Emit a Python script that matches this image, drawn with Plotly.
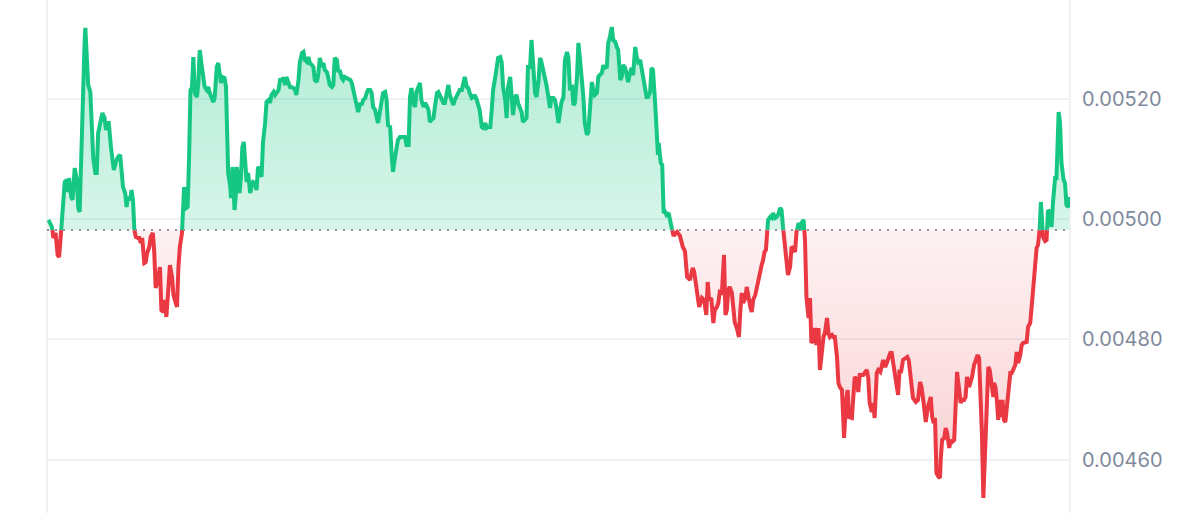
import numpy as np
import plotly.graph_objects as go

# minutes since start of the 24h window
minutes = [
    2, 7, 9, 12, 15, 17, 20, 23, 25, 28,
    30, 31, 34, 36, 39, 42, 44, 46, 50, 53,
    54, 56, 58, 61, 63, 65, 68, 70, 72, 75,
    78, 81, 83, 85, 87, 90, 92, 94, 97, 100,
    103, 105, 107, 110, 112, 114, 117, 119, 121, 123,
    125, 128, 130, 132, 134, 137, 139, 141, 144, 146,
    149, 151, 153, 156, 159, 161, 164, 166, 168, 171,
    173, 176, 178, 180, 183, 185, 187, 190, 193, 196,
    198, 200, 202, 204, 206, 208, 211, 213, 215, 218,
    220, 222, 225, 227, 229, 232, 234, 236, 239, 241,
    242, 245, 247, 250, 252, 254, 255, 258, 259, 261,
    262, 264, 266, 267, 269, 271, 273, 275, 277, 279,
    281, 283, 286, 288, 290, 293, 295, 297, 300, 302,
    304, 307, 309, 312, 314, 316, 319, 321, 323, 326,
    328, 330, 333, 335, 337, 340, 342, 344, 347, 349,
    351, 354, 356, 359, 361, 363, 366, 368, 370, 373,
    375, 377, 380, 382, 384, 387, 389, 391, 394, 396,
    398, 401, 403, 405, 408, 410, 412, 415, 417, 419,
    422, 424, 427, 429, 431, 434, 436, 438, 441, 443,
    445, 448, 450, 452, 455, 457, 459, 462, 464, 466,
    469, 471, 473, 476,
    478, 480, 483, 485, 487, 490, 492, 494, 497, 499,
    502, 504, 506, 509, 511, 513, 516, 518, 520, 523,
    525, 527, 530, 532, 534, 537, 539, 541, 544, 546,
    549, 551, 553, 556, 558, 560, 563, 565, 567, 570,
    572, 574, 577, 579, 581, 584, 586, 588, 591, 593,
    595, 598, 600, 602, 605, 607, 609, 612, 614, 617,
    619, 621, 624, 626, 628, 631, 633, 635, 638, 640,
    642, 645, 647, 649, 652, 654, 656, 659, 661, 663,
    666, 668, 670, 673, 675, 677, 680, 682, 685, 687,
    689, 692, 694, 696, 699, 701, 703, 706, 708, 710,
    713, 715,
    717, 720, 722, 724, 727, 729, 732, 734, 736, 739,
    741, 743, 746, 748, 750, 753, 755, 757, 760, 762,
    764, 767, 769, 771, 774, 776, 778, 781, 783, 785,
    788, 790, 792, 795, 797, 800, 802, 804, 807, 809,
    811, 814, 816, 818, 821, 823, 825, 828, 830, 832,
    835, 837, 839, 842, 844, 846, 849, 851, 853, 856,
    858, 860, 861, 864, 866, 868, 870, 872, 875, 877,
    879, 882, 884, 887, 891, 895, 898,
    901, 905, 909, 911, 915, 918, 922, 925, 928, 930,
    932, 935, 938, 940, 943, 945, 947, 950, 953, 955,
    957, 959, 961, 964, 966, 968, 971, 974, 976, 978,
    980, 983, 985, 987, 990, 992, 994, 997, 999, 1001,
    1004, 1006, 1008, 1010, 1012, 1014, 1015, 1018, 1020, 1022,
    1025, 1027, 1029, 1032, 1034, 1036, 1039, 1041, 1043, 1046,
    1048, 1050, 1053, 1055, 1058, 1060, 1062, 1065, 1067, 1069,
    1072, 1074, 1076, 1079, 1081, 1083, 1086, 1088, 1090, 1093,
    1095, 1098, 1100, 1102, 1105, 1107, 1109, 1112, 1114, 1116,
    1119, 1121, 1122, 1125, 1127, 1129, 1133, 1135, 1137, 1140,
    1142, 1144, 1149, 1154, 1156, 1158, 1161, 1163, 1165, 1168,
    1170, 1173, 1175, 1177, 1180, 1182, 1184, 1187, 1189, 1191,
    1194, 1196, 1198,
    1200, 1202, 1205, 1208, 1211, 1213, 1216, 1219, 1223, 1226,
    1229, 1231, 1234, 1237, 1240, 1242, 1244, 1246, 1248, 1250,
    1252, 1255, 1257, 1258, 1260, 1263, 1265, 1267, 1270, 1272,
    1274, 1277, 1279, 1281, 1284, 1286, 1288, 1291, 1293, 1295,
    1298, 1300, 1302, 1305, 1307, 1310, 1312, 1314, 1316, 1318,
    1320, 1323, 1325, 1327, 1330, 1332, 1333, 1335, 1337, 1339,
    1341, 1343, 1345, 1347, 1349, 1351, 1353, 1356, 1358, 1360,
    1363, 1365, 1367, 1370, 1372, 1374, 1377, 1379, 1381, 1384,
    1386, 1388, 1391, 1393, 1395, 1397, 1399, 1400, 1402, 1405,
    1407, 1409, 1412, 1414, 1416, 1419, 1421, 1424, 1426, 1428,
    1431, 1433, 1435, 1438, 1439,
]

prices = [
    0.0049984, 0.0049867, 0.0049684, 0.0049767, 0.0049402, 0.0049368, 0.0049817, 0.0050432, 0.0050615, 0.0050649,
    0.0050449, 0.0050682, 0.0050366, 0.0050316, 0.0050848, 0.0050649, 0.0050183, 0.0050117, 0.0052095, 0.0052976,
    0.0053176, 0.0052527, 0.0052228, 0.0052112, 0.0051596, 0.0051031, 0.0050765, 0.0050765, 0.0051430, 0.0051596,
    0.0051762, 0.0051679, 0.0051480, 0.0051596, 0.0051596, 0.0051197, 0.0050931, 0.0050815, 0.0050948, 0.0051031,
    0.0051064, 0.0050698, 0.0050532, 0.0050432, 0.0050200, 0.0050366, 0.0050316, 0.0050482, 0.0050316, 0.0049817,
    0.0049701, 0.0049684, 0.0049684, 0.0049601, 0.0049684, 0.0049269, 0.0049285, 0.0049435, 0.0049535, 0.0049701,
    0.0049767, 0.0049435, 0.0048853, 0.0048986, 0.0049202, 0.0048487, 0.0048454, 0.0048654, 0.0048371, 0.0048870,
    0.0049235, 0.0049036, 0.0048737, 0.0048654, 0.0048537, 0.0049202, 0.0049535, 0.0049767, 0.0050532, 0.0050183,
    0.0050200, 0.0051031, 0.0052145, 0.0052178, 0.0052693, 0.0052095, 0.0052028, 0.0052261, 0.0052810, 0.0052527,
    0.0052311, 0.0052195, 0.0052145, 0.0052195, 0.0052095, 0.0051979, 0.0051945, 0.0052012, 0.0052527, 0.0052594,
    0.0052527, 0.0052261, 0.0052361, 0.0052344, 0.0052195, 0.0051430, 0.0050765, 0.0050532, 0.0050349, 0.0050865,
    0.0050649, 0.0050150, 0.0050432, 0.0050865, 0.0050698, 0.0050432, 0.0050698, 0.0051197, 0.0051280, 0.0050815,
    0.0050615, 0.0050765, 0.0050432, 0.0050532, 0.0050615, 0.0050599, 0.0050482, 0.0050865, 0.0050815, 0.0050698,
    0.0051264, 0.0051596, 0.0051945, 0.0051979, 0.0051929, 0.0052062, 0.0052112, 0.0052062, 0.0052095, 0.0052145,
    0.0052311, 0.0052311, 0.0052344, 0.0052228, 0.0052361, 0.0052261, 0.0052195, 0.0052195, 0.0052178, 0.0052145,
    0.0052062, 0.0052311, 0.0052610, 0.0052760, 0.0052777, 0.0052644, 0.0052610, 0.0052693, 0.0052594, 0.0052560,
    0.0052527, 0.0052311, 0.0052278, 0.0052427, 0.0052677, 0.0052527, 0.0052594, 0.0052477, 0.0052444, 0.0052344,
    0.0052228, 0.0052195, 0.0052228, 0.0052677, 0.0052644, 0.0052444, 0.0052477, 0.0052344, 0.0052311, 0.0052361,
    0.0052344, 0.0052344, 0.0052311, 0.0052261, 0.0052145, 0.0051979, 0.0051895, 0.0051779, 0.0051929, 0.0051895,
    0.0051979, 0.0052012, 0.0052095, 0.0052145, 0.0052145, 0.0052095, 0.0051862, 0.0051812, 0.0051696, 0.0051596,
    0.0051812, 0.0051979, 0.0052095, 0.0052112,
    0.0051979, 0.0051563, 0.0051530, 0.0051097, 0.0050782, 0.0051031, 0.0051197, 0.0051314, 0.0051363, 0.0051363,
    0.0051363, 0.0051363, 0.0051230, 0.0051230, 0.0052028, 0.0052178, 0.0051929, 0.0051862, 0.0052112, 0.0052228,
    0.0052261, 0.0051979, 0.0051862, 0.0051929, 0.0051895, 0.0051812, 0.0051613, 0.0051646, 0.0051679, 0.0051862,
    0.0052095, 0.0052112, 0.0052062, 0.0051979, 0.0051929, 0.0051929, 0.0052145, 0.0052228, 0.0052062, 0.0051979,
    0.0051895, 0.0051979, 0.0052062, 0.0052095, 0.0052145, 0.0052145, 0.0052311, 0.0052361, 0.0052195, 0.0052178,
    0.0052095, 0.0052012, 0.0052028, 0.0052062, 0.0051979, 0.0051862, 0.0051812, 0.0051530, 0.0051513, 0.0051596,
    0.0051513, 0.0051530, 0.0051530, 0.0051812, 0.0052145, 0.0052361, 0.0052594, 0.0052677, 0.0052693, 0.0052610,
    0.0052195, 0.0051979, 0.0051679, 0.0052195, 0.0052361, 0.0052095, 0.0051729, 0.0052028, 0.0052062, 0.0051929,
    0.0051846, 0.0051779, 0.0051613, 0.0051646, 0.0051679, 0.0052527, 0.0052527, 0.0052976, 0.0052261, 0.0052095,
    0.0052028, 0.0052311, 0.0052677, 0.0052610, 0.0052444, 0.0052278, 0.0052228, 0.0052012, 0.0051846, 0.0052012,
    0.0052012, 0.0051979,
    0.0051862, 0.0051596, 0.0051812, 0.0051929, 0.0052028, 0.0052644, 0.0052777, 0.0052677, 0.0052178, 0.0052195,
    0.0051895, 0.0051929, 0.0052361, 0.0052926, 0.0052693, 0.0052361, 0.0052028, 0.0051596, 0.0051397, 0.0051447,
    0.0051812, 0.0052278, 0.0052145, 0.0052062, 0.0052095, 0.0052361, 0.0052394, 0.0052427, 0.0052560, 0.0052511,
    0.0052527, 0.0052926, 0.0053009, 0.0053192, 0.0052976, 0.0052943, 0.0052860, 0.0052810, 0.0052311, 0.0052361,
    0.0052560, 0.0052511, 0.0052394, 0.0052278, 0.0052444, 0.0052511, 0.0052394, 0.0052860, 0.0052693, 0.0052610,
    0.0052644, 0.0052511, 0.0052394, 0.0052195, 0.0052028, 0.0052028, 0.0052112, 0.0052511, 0.0052477, 0.0051929,
    0.0051480, 0.0051064, 0.0051264, 0.0050931, 0.0050898, 0.0050100, 0.0050117, 0.0050067, 0.0050100, 0.0049984,
    0.0049867, 0.0049718, 0.0049751, 0.0049784, 0.0049718, 0.0049535, 0.0049468,
    0.0049036, 0.0048986, 0.0049186, 0.0049119, 0.0048820, 0.0048537, 0.0048687, 0.0048654, 0.0048404, 0.0048953,
    0.0048654, 0.0048687, 0.0048271, 0.0048487, 0.0048537, 0.0048604, 0.0048787, 0.0048770, 0.0049402, 0.0048404,
    0.0048487, 0.0048820, 0.0048870, 0.0048770, 0.0048537, 0.0048288, 0.0048188, 0.0048038, 0.0048487, 0.0048770,
    0.0048604, 0.0048687, 0.0048870, 0.0048703, 0.0048537, 0.0048454, 0.0048654, 0.0048737, 0.0048853, 0.0048936,
    0.0049186, 0.0049235, 0.0049319, 0.0049452, 0.0049485, 0.0049817, 0.0049984, 0.0050033, 0.0050017, 0.0050100,
    0.0050017, 0.0050033, 0.0050067, 0.0050183, 0.0050150, 0.0049867, 0.0049535, 0.0049319, 0.0049069, 0.0049202,
    0.0049535, 0.0049518, 0.0049452, 0.0049784, 0.0049934, 0.0049817, 0.0049934, 0.0049984, 0.0049651, 0.0048703,
    0.0048354, 0.0048687, 0.0047939, 0.0047989, 0.0048188, 0.0047905, 0.0048188, 0.0047490, 0.0047772, 0.0048038,
    0.0048105, 0.0048354, 0.0048105, 0.0048038, 0.0048072, 0.0048038, 0.0048038, 0.0047706, 0.0047274, 0.0047207,
    0.0047157, 0.0046542, 0.0046359, 0.0046991, 0.0047157, 0.0046708, 0.0046692, 0.0047041, 0.0047373, 0.0047324,
    0.0047124, 0.0047407, 0.0047407, 0.0047490, 0.0047357, 0.0046941, 0.0046792, 0.0046941, 0.0046692, 0.0047440,
    0.0047490, 0.0047457, 0.0047540, 0.0047656, 0.0047540, 0.0047606, 0.0047706, 0.0047772, 0.0047772, 0.0047606,
    0.0047290, 0.0047157, 0.0047074,
    0.0047490, 0.0047440, 0.0047656, 0.0047689, 0.0047706, 0.0047656, 0.0047324, 0.0047024, 0.0046958, 0.0046991,
    0.0047290, 0.0047207, 0.0046941, 0.0046625, 0.0046875, 0.0046958, 0.0047041, 0.0046708, 0.0046609, 0.0046692,
    0.0045777, 0.0045711, 0.0045694, 0.0045994, 0.0046326, 0.0046359, 0.0046526, 0.0046442, 0.0046193, 0.0046326,
    0.0046293, 0.0046326, 0.0046775, 0.0047457, 0.0047157, 0.0046941, 0.0046991, 0.0046991, 0.0047041, 0.0047373,
    0.0047207, 0.0047274, 0.0047373, 0.0047573, 0.0047656, 0.0047739, 0.0047689, 0.0047207, 0.0046442, 0.0045362,
    0.0046110, 0.0046875, 0.0047540, 0.0047490, 0.0047207, 0.0047041, 0.0047274, 0.0047207, 0.0046991, 0.0046659,
    0.0046991, 0.0046708, 0.0046991, 0.0046659, 0.0046625, 0.0046825, 0.0047024, 0.0047440, 0.0047440, 0.0047490,
    0.0047573, 0.0047789, 0.0047606, 0.0047739, 0.0047905, 0.0047939, 0.0047939, 0.0047955, 0.0048205, 0.0048271,
    0.0048537, 0.0048870, 0.0049202, 0.0049518, 0.0049568, 0.0049767, 0.0050283, 0.0050100, 0.0049701, 0.0049634,
    0.0049651, 0.0050150, 0.0050100, 0.0049867, 0.0050266, 0.0050682, 0.0050682, 0.0051779, 0.0051596, 0.0050931,
    0.0050649, 0.0050599, 0.0050233, 0.0050200, 0.0050366,
]

baseline_price = 0.0049817          # dotted reference (opening) price
tick_values = [0.0046, 0.0048, 0.0050, 0.0052]
tick_labels = ["0.00460", "0.00480", "0.00500", "0.00520"]
y_range = [0.0045112, 0.0053641]
x_range = [0, 1440]

GREEN = "#16c784"
RED = "#ea3943"

assert len(minutes) == len(prices), (len(minutes), len(prices))

t = np.asarray(minutes, dtype=float)
p = np.asarray(prices, dtype=float)
base = baseline_price

# insert baseline crossing points so colours switch exactly at the baseline
T, P = [t[0]], [p[0]]
for i in range(1, len(t)):
    a = p[i - 1] - base
    b = p[i] - base
    if a * b < 0:
        T.append(t[i - 1] + (t[i] - t[i - 1]) * a / (a - b))
        P.append(base)
    T.append(t[i])
    P.append(p[i])
T = np.array(T)
P = np.array(P)

above = np.maximum(P, base)
below = np.minimum(P, base)
line_up = np.where(P >= base, P, np.nan)
line_dn = np.where(P <= base, P, np.nan)
base_arr = np.full_like(T, base)

fig = go.Figure()
fig.add_trace(go.Scatter(x=T, y=base_arr, mode="lines", line=dict(width=0),
                         hoverinfo="skip", showlegend=False))
fig.add_trace(go.Scatter(
    x=T, y=above, mode="lines", line=dict(width=0), fill="tonexty",
    fillgradient=dict(type="vertical",
                      colorscale=[[0, "rgba(22,199,132,0.17)"], [1, "rgba(22,199,132,0.34)"]]),
    hoverinfo="skip", showlegend=False))
fig.add_trace(go.Scatter(x=T, y=base_arr, mode="lines", line=dict(width=0),
                         hoverinfo="skip", showlegend=False))
fig.add_trace(go.Scatter(
    x=T, y=below, mode="lines", line=dict(width=0), fill="tonexty",
    fillgradient=dict(type="vertical",
                      colorscale=[[0, "rgba(234,57,67,0.24)"], [1, "rgba(234,57,67,0.07)"]]),
    hoverinfo="skip", showlegend=False))
fig.add_trace(go.Scatter(x=T, y=line_up, mode="lines",
                         line=dict(color=GREEN, width=4), connectgaps=False,
                         showlegend=False))
fig.add_trace(go.Scatter(x=T, y=line_dn, mode="lines",
                         line=dict(color=RED, width=4), connectgaps=False,
                         showlegend=False))

fig.add_shape(type="line", xref="paper", yref="y", x0=0, x1=1, y0=base, y1=base,
              line=dict(color="#8f949c", width=2, dash="2px,6px"), layer="above")
for xp in (0, 1):
    fig.add_shape(type="line", xref="paper", yref="paper", x0=xp, x1=xp, y0=0, y1=1,
                  line=dict(color="#eff2f5", width=2), layer="below")

fig.update_layout(
    width=1200, height=513,
    margin=dict(l=47, r=130, t=0, b=0),
    paper_bgcolor="white", plot_bgcolor="white",
    font=dict(family="Inter, sans-serif"),
    showlegend=False,
    xaxis=dict(range=x_range, visible=False, fixedrange=True),
    yaxis=dict(
        range=y_range, side="right",
        tickvals=tick_values, ticktext=tick_labels,
        showgrid=True, gridcolor="#eff2f5", gridwidth=2,
        zeroline=False, showline=False,
        ticks="outside", ticklen=7, tickcolor="rgba(0,0,0,0)",
        tickfont=dict(family="Inter, sans-serif", size=20, color="#808a9d"),
        fixedrange=True,
    ),
)

fig.write_html("out.html", config={"displayModeBar": False},
               post_script="document.body.style.margin='0';document.body.style.overflow='hidden';")
